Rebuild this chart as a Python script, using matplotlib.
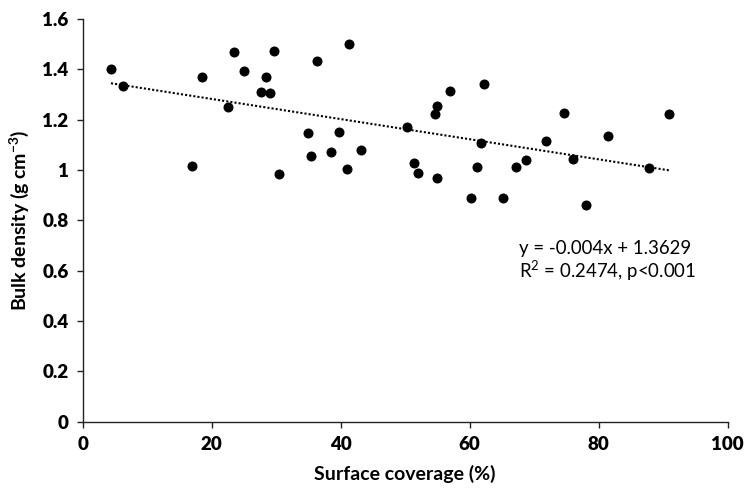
import numpy as np
import matplotlib.pyplot as plt

plt.rcParams['font.family'] = ['Lato', 'DejaVu Sans']
plt.rcParams['mathtext.fontset'] = 'custom'
plt.rcParams['mathtext.rm'] = 'Lato'
plt.rcParams['mathtext.bf'] = 'Lato:bold'

# surface coverage (%) and bulk density (g cm-3)
coverage = [4.4, 6.3, 16.9, 18.5, 22.6, 23.5, 25.1, 27.7, 28.4, 29.1,
            29.7, 30.5, 35.0, 35.4, 36.4, 38.5, 39.7, 41.0, 41.3, 43.1,
            50.3, 51.4, 52.0, 54.6, 54.9, 54.9, 57.0, 60.2, 61.2, 61.8,
            62.2, 65.2, 67.2, 68.7, 71.8, 74.7, 76.1, 78.1, 81.4, 87.8, 90.9]
density = [1.400, 1.335, 1.015, 1.369, 1.252, 1.469, 1.392, 1.312, 1.369, 1.306,
           1.475, 0.985, 1.148, 1.058, 1.433, 1.072, 1.153, 1.004, 1.502, 1.081,
           1.172, 1.029, 0.988, 1.223, 1.256, 0.970, 1.315, 0.891, 1.012, 1.107,
           1.343, 0.891, 1.012, 1.041, 1.117, 1.227, 1.043, 0.862, 1.137, 1.009, 1.223]

slope = -0.004
intercept = 1.3629

x = np.array(coverage)
y = np.array(density)

fig = plt.figure(figsize=(7.44, 4.91), dpi=100)
ax = fig.add_axes([0.111, 0.141, 0.867, 0.820])

ax.scatter(x, y, s=52, color='black', zorder=3, linewidths=0)

xl = np.array([x.min(), x.max()])
ax.plot(xl, slope * xl + intercept, color='black', linestyle=(0, (1, 1)), linewidth=1.5)

ax.set_xlim(0, 100)
ax.set_ylim(0, 1.6)
ax.set_xticks(np.arange(0, 101, 20))
ax.set_yticks(np.arange(0, 1.61, 0.2))
ax.set_yticklabels(['0', '0.2', '0.4', '0.6', '0.8', '1', '1.2', '1.4', '1.6'])

for s in ['top', 'right']:
    ax.spines[s].set_visible(False)
for s in ['left', 'bottom']:
    ax.spines[s].set_color('#222222')
    ax.spines[s].set_linewidth(1.0)
ax.tick_params(direction='out', length=4, width=1.0, color='#222222',
               labelsize=13.5, pad=6)
for lab in ax.get_xticklabels() + ax.get_yticklabels():
    lab.set_fontweight('heavy')

ax.set_xlabel('Surface coverage (%)', fontsize=14, fontweight='bold', labelpad=9)
ax.set_ylabel(r'Bulk density (g cm$^{\mathbf{-3}}$)', fontsize=14, fontweight='bold', labelpad=8)

# regression equation
ax.text(67.7, 0.637, 'y = -0.004x + 1.3629\nR$^2$ = 0.2474, p<0.001',
        fontsize=13.4, linespacing=1.1, va='center', ha='left')

fig.savefig('out.png', dpi=100)
